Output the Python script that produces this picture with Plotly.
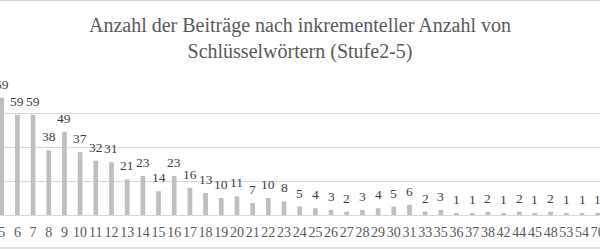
import plotly.graph_objects as go

categories = ["5","6","7","8","9","10","11","12","13","14","15","16","17","18","19","20",
              "21","22","23","24","25","26","27","28","29","30","31","33","35","36","37",
              "38","42","44","45","48","53","54","70"]
values = [69,59,59,38,49,37,32,31,21,23,14,23,16,13,10,11,7,10,8,5,4,3,2,3,4,5,6,
          2,3,1,1,2,1,2,1,2,1,1,1]
title_text = "Anzahl der Beiträge nach inkrementeller Anzahl von<br>Schlüsselwörtern (Stufe2-5)"

W, H = 600, 249
mt, mb = 79, 34
font = "Liberation Serif"
idx = list(range(len(categories)))

fig = go.Figure(go.Bar(
    x=idx, y=values,
    marker=dict(color="#bfbfbf", line=dict(width=0)),
    cliponaxis=False,
))

annotations = [
    dict(x=i, y=v, xref="x", yref="y", text=str(v), showarrow=False,
         yanchor="bottom", xanchor="center", yshift=4,
         font=dict(family=font, size=13.5, color="#404040"))
    for i, v in zip(idx, values)
]

ph = H - mt - mb
fig.update_layout(
    width=W, height=H,
    margin=dict(l=0, r=0, t=mt, b=mb, pad=0, autoexpand=False),
    paper_bgcolor="white", plot_bgcolor="white",
    bargap=0.7, showlegend=False,
    annotations=annotations,
    title=dict(text=title_text, x=0.5, xanchor="center", xref="paper",
               y=1 - 32 / H, yanchor="top", yref="container",
               font=dict(family=font, size=20, color="#595959")),
    xaxis=dict(range=[-0.108, 38.147], showgrid=False, automargin=False,
               tickmode="array", tickvals=idx, ticktext=categories,
               ticklabeloverflow="allow", tickangle=0,
               showline=False, ticks="", zeroline=False, ticklabelstandoff=7,
               tickfont=dict(family=font, size=14, color="#595959")),
    yaxis=dict(range=[0, 80.05], dtick=20, showticklabels=False, showgrid=True,
               gridcolor="#d9d9d9", gridwidth=1, zeroline=True,
               zerolinecolor="#d9d9d9", zerolinewidth=1, showline=False),
    shapes=[
        dict(type="line", xref="paper", yref="paper", x0=-0.01, x1=1.01,
             y0=(H - mb - 0.5) / ph, y1=(H - mb - 0.5) / ph,
             line=dict(color="#d9d9d9", width=1.5)),
        dict(type="line", xref="paper", yref="paper", x0=-0.01, x1=1.01,
             y0=-(mb - 1) / ph, y1=-(mb - 1) / ph,
             line=dict(color="#d9d9d9", width=1.5)),
    ],
)
fig.write_html("out.html")
